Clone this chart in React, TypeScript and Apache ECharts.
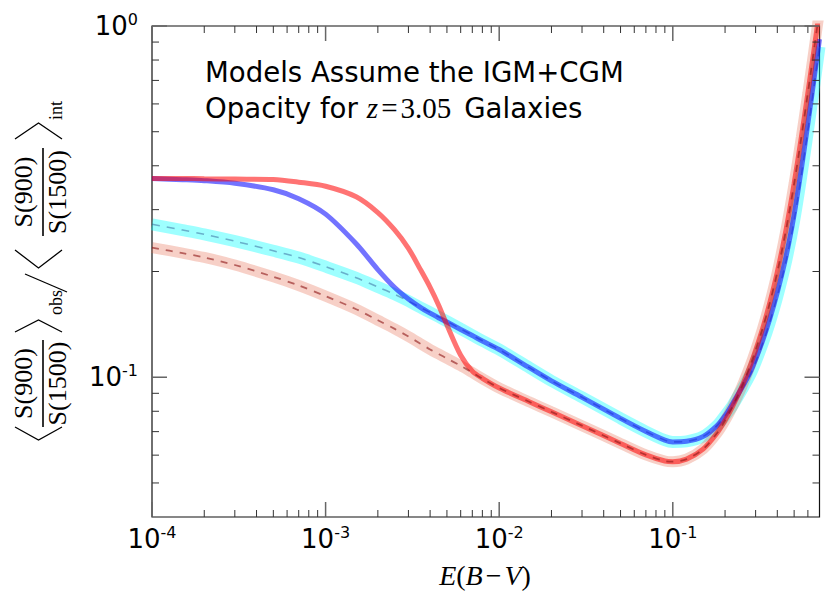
import React, { useEffect, useRef } from "react";
import * as echarts from "echarts";

// E(B-V) sample positions
const ebvValues = [
  1e-4, 1.5e-4, 2e-4, 3e-4, 5e-4, 7e-4, 1e-3, 1.5e-3, 2e-3, 2.5e-3, 3e-3,
  3.5e-3, 4e-3, 4.5e-3, 5e-3, 6e-3, 7e-3, 8e-3,
  1e-2, 1.5e-2, 2e-2, 3e-2, 5e-2, 7e-2,
  0.09, 0.1, 0.12,
  0.15, 0.18, 0.2, 0.22, 0.25, 0.28, 0.3, 0.33, 0.36, 0.4, 0.45, 0.5, 0.55, 0.6, 0.65, 0.7,
];

// cyan band (dashed blue-grey centre line)
const cyanBandValues = [
  0.2725, 0.2624, 0.2552, 0.244, 0.2291, 0.2191, 0.2064, 0.192, 0.1807, 0.1722, 0.1648,
  0.1582, 0.1529, 0.1484, 0.1443, 0.1373, 0.1317, 0.127,
  0.1199, 0.1063, 0.09765, 0.08766, 0.07637, 0.07005,
  0.06621, 0.06544, 0.06569,
  0.06785, 0.07281, 0.07768, 0.08284, 0.0922, 0.1021, 0.1105, 0.1251, 0.1421, 0.1699, 0.2148, 0.2791, 0.3743, 0.5023, 0.6678, 0.873,
];

// solid blue curve
const blueLineValues = [
  0.3679, 0.3652, 0.3628, 0.3566, 0.3417, 0.3223, 0.2913, 0.2399, 0.2025, 0.18, 0.1669,
  0.1583, 0.1522, 0.1475, 0.1436, 0.1368, 0.1314, 0.1268,
  0.1199, 0.1063, 0.09765, 0.08766, 0.07637, 0.07005,
  0.06621, 0.06544, 0.06569,
  0.06785, 0.07281, 0.07768, 0.08379, 0.09333, 0.1036, 0.1125, 0.1276, 0.1453, 0.1745, 0.2217, 0.2903, 0.3915, 0.5272, 0.7019, 0.9178,
];

// salmon band (dashed dark-red centre line)
const salmonBandValues = [
  0.2339, 0.2256, 0.2193, 0.2087, 0.1932, 0.1825, 0.1702, 0.1562, 0.1453, 0.1373, 0.1306,
  0.1248, 0.12, 0.1163, 0.1131, 0.1078, 0.1031, 0.0991,
  0.0932, 0.085, 0.0797, 0.0728, 0.0648, 0.0601,
  0.05775, 0.05749, 0.05846,
  0.06253, 0.06937, 0.07527, 0.08218, 0.0941, 0.1083, 0.1193, 0.1382, 0.1611, 0.1992, 0.2645, 0.3561, 0.4819, 0.6449, 0.8515, 1.109,
];

// solid red curve
const redLineValues = [
  0.3679, 0.3679, 0.3674, 0.3666, 0.3656, 0.3592, 0.3497, 0.3264, 0.2944, 0.2627, 0.2329,
  0.2035, 0.1803, 0.1596, 0.1408, 0.1155, 0.1041, 0.0993,
  0.0932, 0.085, 0.0797, 0.0728, 0.0648, 0.0601,
  0.05775, 0.05749, 0.05846,
  0.06253, 0.06937, 0.07527, 0.08218, 0.0941, 0.1083, 0.1193, 0.1382, 0.1611, 0.1992, 0.2645, 0.3561, 0.4819, 0.6449, 0.8515, 1.109,
];

const xMajorTicks = [1e-4, 1e-3, 1e-2, 1e-1];
const xMinorTicks = [
  2e-4, 3e-4, 4e-4, 5e-4, 6e-4, 7e-4, 8e-4, 9e-4,
  2e-3, 3e-3, 4e-3, 5e-3, 6e-3, 7e-3, 8e-3, 9e-3,
  2e-2, 3e-2, 4e-2, 5e-2, 6e-2, 7e-2, 8e-2, 9e-2,
  0.2, 0.3, 0.4, 0.5, 0.6,
];
const yMajorTicks = [0.1, 1];
const yMinorTicks = [0.05, 0.06, 0.07, 0.08, 0.09, 0.2, 0.3, 0.4, 0.5, 0.6, 0.7, 0.8, 0.9];

const X_MIN = 1e-4;
const X_MAX = 0.7;
const Y_MIN = 0.04;
const Y_MAX = 1;

const SANS = '"DejaVu Sans", sans-serif';
const SERIF = '"Liberation Serif", "DejaVu Serif", serif';

function pairs(ys: number[]) {
  return ebvValues.map((x, i) => [x, ys[i]]);
}

function powLabel(v: number) {
  const l = Math.log10(v);
  const n = Math.round(l);
  if (Math.abs(l - n) > 1e-6) return "";
  return `{b|10}{s|${n}}`;
}

const labelRich = {
  b: { fontSize: 26, fontFamily: SANS, color: "#000", lineHeight: 30 },
  s: { fontSize: 16, fontFamily: SANS, color: "#000", lineHeight: 18, verticalAlign: "top" },
};

function txt(x: number, y: number, text: string, size: number, align = "center") {
  return {
    type: "text",
    x,
    y,
    style: {
      text,
      font: `${size}px ${SERIF}`,
      fill: "#000",
      align,
      textAlign: align,
      verticalAlign: "middle",
      textVerticalAlign: "middle",
    },
  };
}

function bracket(apex: number, tip: number) {
  return {
    type: "polyline",
    shape: { points: [[tip, -28], [apex, -4.5], [tip, 19]] },
    style: { stroke: "#000", lineWidth: 1.3, fill: null },
  };
}

function fraction(cx: number, half: number) {
  return [
    txt(cx, -20, "S(900)", 26),
    {
      type: "line",
      shape: { x1: cx - half, y1: 0, x2: cx + half, y2: 0 },
      style: { stroke: "#000", lineWidth: 1.6 },
    },
    txt(cx, 14, "S(1500)", 26),
  ];
}

function tickSeries(data: number[][], horizontal: boolean) {
  return {
    type: "custom",
    coordinateSystem: "cartesian2d",
    silent: true,
    clip: false,
    z: 20,
    data,
    encode: { x: 0, y: 1 },
    renderItem: (_params: any, api: any) => {
      const major = api.value(2) === 1;
      const len = major ? 15 : 7;
      const style = { stroke: major ? "#666" : "#333", lineWidth: major ? 1.5 : 1 };
      if (horizontal) {
        const v = api.value(0);
        const b = api.coord([v, Y_MIN]);
        const t = api.coord([v, Y_MAX]);
        return {
          type: "group",
          children: [
            { type: "line", shape: { x1: b[0], y1: b[1], x2: b[0], y2: b[1] - len }, style },
            { type: "line", shape: { x1: t[0], y1: t[1], x2: t[0], y2: t[1] + len }, style },
          ],
        };
      }
      const v = api.value(1);
      const l = api.coord([X_MIN, v]);
      const r = api.coord([X_MAX, v]);
      return {
        type: "group",
        children: [
          { type: "line", shape: { x1: l[0], y1: l[1], x2: l[0] + len, y2: l[1] }, style },
          { type: "line", shape: { x1: r[0], y1: r[1], x2: r[0] - len, y2: r[1] }, style },
        ],
      };
    },
  };
}

export default function App() {
  const ref = useRef<HTMLDivElement>(null);

  useEffect(() => {
    if (!ref.current) return;
    const chart = echarts.init(ref.current, null, { renderer: "svg" });

    const lineBase = { type: "line", showSymbol: false, symbol: "none", smooth: 0.3, silent: true };

    const option: any = {
      animation: false,
      backgroundColor: "#fff",
      grid: {
        left: 152,
        right: 11.5,
        top: 26,
        bottom: 85,
        show: true,
        borderColor: "#111",
        borderWidth: 1.2,
        backgroundColor: "transparent",
        containLabel: false,
        outerBoundsMode: "none",
      },
      xAxis: {
        type: "log",
        logBase: 10,
        min: X_MIN,
        max: X_MAX,
        axisLine: { show: false },
        axisTick: { show: false },
        splitLine: { show: false },
        minorTick: { show: false },
        axisLabel: { formatter: powLabel, margin: 7, rich: labelRich, showMinLabel: true, showMaxLabel: true },
      },
      yAxis: {
        type: "log",
        logBase: 10,
        min: Y_MIN,
        max: Y_MAX,
        axisLine: { show: false },
        axisTick: { show: false },
        splitLine: { show: false },
        minorTick: { show: false },
        axisLabel: { formatter: powLabel, margin: 14, rich: labelRich, showMinLabel: true, showMaxLabel: true },
      },
      series: [
        { ...lineBase, name: "cyan band", data: pairs(cyanBandValues), z: 2, lineStyle: { color: "rgba(0,255,255,0.38)", width: 12 } },
        { ...lineBase, name: "salmon band", data: pairs(salmonBandValues), z: 3, lineStyle: { color: "rgba(230,100,70,0.3)", width: 11 } },
        { ...lineBase, name: "cyan centre", data: pairs(cyanBandValues), z: 4, lineStyle: { color: "rgba(40,80,140,0.45)", width: 1.6, type: [8, 7] } },
        { ...lineBase, name: "blue", data: pairs(blueLineValues), z: 5, lineStyle: { color: "rgba(0,0,255,0.55)", width: 5 } },
        { ...lineBase, name: "red", data: pairs(redLineValues), z: 6, lineStyle: { color: "rgba(255,0,0,0.55)", width: 5 } },
        { ...lineBase, name: "salmon centre", data: pairs(salmonBandValues), z: 7, lineStyle: { color: "rgba(140,20,20,0.6)", width: 1.8, type: [7, 7] } },
        tickSeries(
          [...xMajorTicks.map((v) => [v, Y_MIN, 1]), ...xMinorTicks.map((v) => [v, Y_MIN, 0])],
          true
        ),
        tickSeries(
          [...yMajorTicks.map((v) => [X_MIN, v, 1]), ...yMinorTicks.map((v) => [X_MIN, v, 0])],
          false
        ),
      ],
      graphic: [
        {
          type: "text",
          x: 205,
          y: 72,
          z: 30,
          style: {
            text: "Models Assume the IGM+CGM",
            font: `27.6px ${SANS}`,
            fill: "#000",
            verticalAlign: "middle",
            textVerticalAlign: "middle",
          },
        },
        {
          type: "text",
          x: 205,
          y: 108,
          z: 30,
          style: {
            text: "{a|Opacity for}{m|z}{e|=}{n|3.05}{a|Galaxies}",
            fill: "#000",
            verticalAlign: "middle",
            textVerticalAlign: "middle",
            rich: {
              a: { fontSize: 27.6, fontFamily: SANS, color: "#000" },
              m: { fontSize: 29, fontFamily: SERIF, fontStyle: "italic", color: "#000", padding: [0, 0, 0, 9] },
              e: { fontSize: 29, fontFamily: SERIF, color: "#000", padding: [0, 3, 0, 3] },
              n: { fontSize: 29, fontFamily: SERIF, color: "#000", padding: [0, 13, 0, 0] },
            },
          },
        },
        {
          type: "text",
          x: 485,
          y: 575,
          z: 30,
          style: {
            text: "{i|E}{r|(}{i|B}{m|−}{i|V}{r|)}",
            align: "center",
            textAlign: "center",
            verticalAlign: "middle",
            textVerticalAlign: "middle",
            rich: {
              i: { fontSize: 28, fontFamily: SERIF, fontStyle: "italic", color: "#000" },
              r: { fontSize: 28, fontFamily: SERIF, color: "#000" },
              m: { fontSize: 28, fontFamily: SERIF, color: "#000", padding: [0, 3, 0, 3] },
            },
          },
        },
        {
          type: "group",
          x: 43,
          y: 440,
          rotation: Math.PI / 2,
          z: 30,
          children: [
            bracket(0, 13),
            ...fraction(56.5, 43.5),
            bracket(120, 108),
            txt(125, 13, "obs", 18, "left"),
            {
              type: "line",
              shape: { x1: 148, y1: 24, x2: 166, y2: -18 },
              style: { stroke: "#000", lineWidth: 1.3 },
            },
            bracket(172, 190),
            ...fraction(248, 44),
            bracket(317, 301),
            txt(320, 13, "int", 18, "left"),
          ],
        },
      ],
    };

    chart.setOption(option);
    return () => chart.dispose();
  }, []);

  return (
    <div
      ref={ref}
      style={{ position: "fixed", left: 0, top: 0, width: 831, height: 602, background: "#fff" }}
    />
  );
}
